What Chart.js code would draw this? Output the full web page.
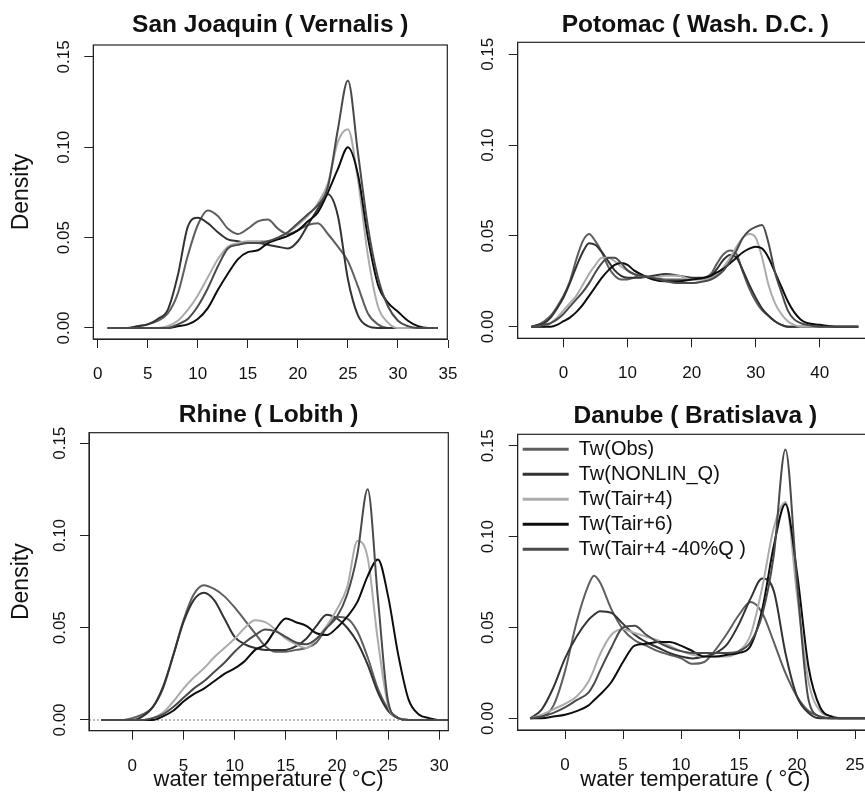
<!DOCTYPE html>
<html>
<head>
<meta charset="utf-8">
<script src="https://cdn.jsdelivr.net/npm/chart.js@4.4.1/dist/chart.umd.min.js"></script>
<style>
  html, body { margin: 0; padding: 0; background: #ffffff; overflow: hidden; width: 865px; height: 803px; }
  .panel { position: absolute; }
</style>
</head>
<body>
<div class="panel" style="left:0px;top:0px;width:460px;height:400px"><canvas id="cSJ"></canvas></div>
<div class="panel" style="left:430px;top:0px;width:445px;height:400px"><canvas id="cPO"></canvas></div>
<div class="panel" style="left:0px;top:390px;width:460px;height:413px"><canvas id="cRH"></canvas></div>
<div class="panel" style="left:430px;top:390px;width:445px;height:413px"><canvas id="cDA"></canvas></div>
<script>
// ---------------- DATA ----------------
const seriesNames = ['Tw(Obs)', 'Tw(NONLIN_Q)', 'Tw(Tair+4)', 'Tw(Tair+6)', 'Tw(Tair+4 -40%Q )'];
const yTickValues = [0, 0.05, 0.10, 0.15];
const yTickLabels = ['0.00', '0.05', '0.10', '0.15'];

// San Joaquin (Vernalis)
const sjTitle = 'San Joaquin ( Vernalis )';
const sjTicks = [0, 5, 10, 15, 20, 25, 30, 35];
const sjTemp = [1,2,3,4,5,6,7,8,9,10,11,12,13,14,15,16,17,18,19,20,21,22,23,24,25,26,27,28,29,30,31,32,33,34];
const sjObs    = [0,0,0,0.001,0.002,0.004,0.008,0.019,0.040,0.057,0.065,0.062,0.055,0.052,0.055,0.059,0.060,0.055,0.052,0.054,0.057,0.058,0.052,0.045,0.037,0.023,0.008,0.002,0,0,0,0,0,0];
const sjNonlin = [0,0,0,0.001,0.002,0.005,0.010,0.029,0.056,0.061,0.058,0.053,0.049,0.048,0.047,0.047,0.046,0.045,0.044,0.048,0.057,0.066,0.074,0.062,0.027,0.007,0.001,0,0,0,0,0,0,0];
const sjTair4  = [0,0,0,0,0,0,0.001,0.004,0.010,0.018,0.028,0.038,0.045,0.047,0.048,0.048,0.048,0.050,0.053,0.057,0.062,0.069,0.080,0.103,0.110,0.082,0.040,0.012,0.003,0,0,0,0,0];
const sjTair6  = [0,0,0,0,0,0,0,0.001,0.002,0.005,0.011,0.021,0.030,0.038,0.042,0.043,0.047,0.049,0.051,0.054,0.059,0.064,0.075,0.088,0.100,0.085,0.050,0.024,0.014,0.009,0.004,0.001,0,0];
const sjQ40    = [0,0,0,0,0,0,0,0.002,0.005,0.012,0.022,0.034,0.044,0.046,0.047,0.047,0.048,0.050,0.053,0.058,0.063,0.068,0.078,0.110,0.137,0.097,0.056,0.028,0.012,0.004,0.001,0,0,0];

// Potomac (Wash. D.C.)
const poTitle = 'Potomac ( Wash. D.C. )';
const poTicks = [0, 10, 20, 30, 40];
const poTemp = [-5,-4,-3,-2,-1,0,1,2,3,4,5,6,7,8,9,10,11,12,14,16,18,20,22,23,24,25,26,27,28,29,30,31,32,33,34,35,36,37,38,40,43,46];
const poObs    = [0,0.001,0.003,0.006,0.011,0.017,0.025,0.037,0.047,0.051,0.047,0.041,0.033,0.028,0.026,0.026,0.027,0.028,0.027,0.026,0.026,0.026,0.027,0.029,0.035,0.040,0.042,0.040,0.030,0.021,0.014,0.009,0.006,0.003,0.001,0,0,0,0,0,0,0];
const poNonlin = [0,0.001,0.002,0.005,0.010,0.016,0.024,0.033,0.041,0.046,0.045,0.041,0.036,0.031,0.028,0.027,0.027,0.027,0.028,0.029,0.028,0.027,0.027,0.028,0.032,0.037,0.0395,0.038,0.031,0.023,0.016,0.010,0.006,0.003,0.001,0,0,0,0,0,0,0];
const poTair4  = [0,0,0,0.002,0.005,0.009,0.013,0.017,0.023,0.029,0.034,0.038,0.038,0.036,0.033,0.031,0.029,0.028,0.027,0.028,0.028,0.026,0.026,0.027,0.029,0.033,0.038,0.044,0.049,0.051,0.049,0.038,0.023,0.013,0.007,0.003,0.001,0,0,0,0,0];
const poTair6  = [0,0,0,0,0.001,0.003,0.005,0.008,0.012,0.017,0.022,0.027,0.031,0.034,0.035,0.034,0.031,0.029,0.026,0.025,0.025,0.026,0.027,0.028,0.030,0.032,0.035,0.038,0.041,0.043,0.044,0.043,0.038,0.030,0.022,0.014,0.008,0.004,0.002,0.001,0,0];
const poQ40    = [0,0,0.001,0.002,0.004,0.007,0.011,0.015,0.019,0.024,0.030,0.035,0.038,0.038,0.035,0.031,0.029,0.028,0.027,0.025,0.024,0.024,0.025,0.026,0.028,0.031,0.036,0.042,0.049,0.053,0.055,0.056,0.046,0.030,0.019,0.009,0.004,0.002,0.001,0,0,0];

// Rhine (Lobith)
const rhTitle = 'Rhine ( Lobith )';
const rhTicks = [0, 5, 10, 15, 20, 25, 30];
const rhTemp = [-3,-2,-1,0,1,2,3,4,5,6,7,8,9,10,11,12,13,14,15,16,17,18,19,20,21,22,23,24,25,26,27,28,29,30,31];
const rhObs    = [0,0,0,0.001,0.003,0.007,0.017,0.035,0.054,0.068,0.073,0.071,0.067,0.061,0.054,0.047,0.040,0.037,0.037,0.038,0.039,0.042,0.050,0.056,0.055,0.048,0.034,0.017,0.006,0.001,0,0,0,0,0];
const rhNonlin = [0,0,0,0,0.002,0.007,0.018,0.035,0.053,0.065,0.069,0.065,0.055,0.045,0.041,0.039,0.038,0.038,0.038,0.040,0.044,0.051,0.057,0.055,0.050,0.042,0.030,0.015,0.005,0.001,0,0,0,0,0];
const rhTair4  = [0,0,0,0,0,0.001,0.004,0.010,0.017,0.023,0.028,0.034,0.039,0.044,0.050,0.054,0.053,0.049,0.044,0.041,0.039,0.044,0.051,0.060,0.072,0.097,0.088,0.043,0.008,0.001,0,0,0,0,0];
const rhTair6  = [0,0,0,0,0,0,0.002,0.005,0.010,0.014,0.017,0.021,0.025,0.028,0.032,0.038,0.041,0.049,0.055,0.053,0.051,0.047,0.046,0.050,0.056,0.064,0.078,0.087,0.067,0.035,0.011,0.003,0.001,0,0];
const rhQ40    = [0,0,0,0,0,0.001,0.003,0.007,0.012,0.017,0.021,0.026,0.031,0.037,0.042,0.046,0.049,0.048,0.045,0.042,0.041,0.044,0.050,0.056,0.068,0.090,0.125,0.066,0.010,0.001,0,0,0,0,0];

// Danube (Bratislava)
const daTitle = 'Danube ( Bratislava )';
const daTicks = [0, 5, 10, 15, 20, 25];
const daTemp = [-3,-2,-1,0,1,2,2.5,3,4,5,6,7,8,9,10,11,12,13,14,15,16,17,18,19,20,21,22,23,24,25,26];
const daObs    = [0,0.001,0.007,0.026,0.053,0.073,0.0785,0.075,0.060,0.049,0.043,0.040,0.037,0.035,0.033,0.030,0.031,0.038,0.047,0.057,0.064,0.058,0.042,0.025,0.012,0.004,0.001,0,0,0,0];
const daNonlin = [0,0.005,0.017,0.033,0.045,0.054,0.057,0.059,0.058,0.052,0.046,0.042,0.039,0.036,0.034,0.033,0.034,0.036,0.041,0.052,0.066,0.077,0.070,0.036,0.012,0.003,0,0,0,0,0];
const daTair4  = [0,0.002,0.005,0.008,0.012,0.020,0.027,0.035,0.046,0.049,0.047,0.045,0.043,0.040,0.037,0.035,0.034,0.034,0.034,0.037,0.046,0.072,0.105,0.119,0.068,0.020,0.004,0.001,0,0,0];
const daTair6  = [0,0,0.001,0.002,0.004,0.007,0.010,0.013,0.020,0.031,0.040,0.041,0.042,0.042,0.040,0.037,0.034,0.034,0.035,0.036,0.040,0.060,0.095,0.118,0.080,0.028,0.006,0.001,0,0,0];
const daQ40    = [0,0.001,0.003,0.006,0.010,0.014,0.019,0.026,0.039,0.050,0.051,0.046,0.042,0.039,0.037,0.036,0.036,0.036,0.036,0.037,0.042,0.057,0.090,0.148,0.075,0.010,0.001,0,0,0,0];

// ---------------- STYLE ----------------
const seriesColors = ['#5e5e5e', '#333333', '#ababab', '#0d0d0d', '#4a4a4a'];
const FONT = '"Liberation Sans", Arial, Helvetica, sans-serif';
Chart.defaults.font.family = FONT;
Chart.defaults.color = '#111111';
Chart.defaults.animation = false;

const boxPlugin = {
  id: 'panelBox',
  afterDraw(chart) {
    const a = chart.chartArea, ctx = chart.ctx;
    ctx.save();
    ctx.strokeStyle = '#222222';
    ctx.lineWidth = 1.2;
    ctx.strokeRect(a.left, a.top, a.right - a.left, a.bottom - a.top);
    ctx.restore();
  }
};
const zeroLinePlugin = {
  id: 'zeroLine',
  beforeDatasetsDraw(chart, args, opts) {
    if (!opts || !opts.show) return;
    const a = chart.chartArea, ctx = chart.ctx;
    const y = chart.scales.y.getPixelForValue(0);
    ctx.save();
    ctx.strokeStyle = '#777777';
    ctx.lineWidth = 1;
    ctx.setLineDash([2, 2]);
    ctx.beginPath(); ctx.moveTo(a.left, y); ctx.lineTo(a.right, y); ctx.stroke();
    ctx.restore();
  }
};
// keep a 'chartArea' legend anchored to the top-left corner of the plot box
const legendInAreaPlugin = {
  id: 'legendInArea',
  afterLayout(chart) {
    const l = chart.legend;
    if (!l || !l.options.display || l.options.position !== 'chartArea') return;
    const a = chart.chartArea;
    l.left = a.left; l.top = a.top; l.right = a.right; l.bottom = a.bottom;
  }
};
function zeroPad(s) { s.paddingLeft = 0; s.paddingRight = 0; s.paddingTop = 0; s.paddingBottom = 0; }

function makePanel(p) {
  const datasets = p.series.map((ys, k) => ({
    label: seriesNames[k],
    data: p.xs.map((x, i) => ({ x: x, y: ys[i] })),
    borderColor: seriesColors[k],
    backgroundColor: seriesColors[k],
    borderWidth: 2,
    pointRadius: 0,
    fill: false,
    cubicInterpolationMode: 'monotone',
    order: p.series.length - k
  }));
  const g = p.geom;
  return new Chart(document.getElementById(p.id), {
    type: 'line',
    data: { datasets },
    plugins: [boxPlugin, zeroLinePlugin, legendInAreaPlugin],
    options: {
      responsive: true,
      maintainAspectRatio: false,
      animation: false,
      layout: { padding: { left: 0, top: 0, right: g.padRight, bottom: 0 } },
      plugins: {
        zeroLine: { show: !!p.zeroLine },
        tooltip: { enabled: false },
        title: {
          display: true, text: p.title, fullSize: false,
          color: '#111111',
          font: { size: 24.5, weight: 'bold', family: FONT, lineHeight: 1.2 },
          padding: { top: g.tPadTop, bottom: g.tPadBottom }
        },
        legend: p.legend ? {
          display: true,
          position: 'chartArea',
          align: 'start',
          labels: {
            usePointStyle: true,
            pointStyle: 'line',
            pointStyleWidth: 46,
            color: '#111111',
            font: { size: 20, family: FONT },
            padding: 5,
            sort: (a, b) => a.datasetIndex - b.datasetIndex,
            generateLabels: (chart) => Chart.defaults.plugins.legend.labels.generateLabels(chart)
              .map(l => Object.assign(l, { lineWidth: 3 }))
          }
        } : { display: false }
      },
      scales: {
        x: {
          type: 'linear',
          min: p.xMin, max: p.xMax,
          afterBuildTicks: (s) => { s.ticks = p.xTicks.map(v => ({ value: v })); },
          afterFit: (s) => { s.height = g.xAxisH; zeroPad(s); },
          grid: { drawOnChartArea: false, drawTicks: true, tickLength: 9, color: '#222222', lineWidth: 1 },
          border: { display: true, color: '#222222', width: 1 },
          ticks: { font: { size: 17 }, color: '#111111', padding: 16, maxRotation: 0, autoSkip: false,
                   callback: (v) => String(v) },
          title: p.xTitle ? { display: true, text: 'water temperature ( °C)', color: '#111111',
                   font: { size: 22 }, padding: { top: 0, bottom: 9.8 } } : { display: false }
        },
        y: {
          type: 'linear',
          min: p.yMin, max: p.yMax,
          afterBuildTicks: (s) => { s.ticks = yTickValues.map(v => ({ value: v })); },
          afterFit: (s) => { s.width = g.yAxisW; zeroPad(s); },
          grid: { drawOnChartArea: false, drawTicks: true, tickLength: 9, color: '#222222', lineWidth: 1 },
          border: { display: true, color: '#222222', width: 1 },
          ticks: { font: { size: 17 }, color: '#111111', padding: 3.5, minRotation: 90, maxRotation: 90,
                   crossAlign: 'center', autoSkip: false,
                   callback: (v, i) => yTickLabels[i] },
          title: p.yTitle ? { display: true, text: 'Density', color: '#111111',
                   font: { size: 23 }, padding: { top: 8, bottom: 0 } } : { display: false }
        }
      }
    }
  });
}

makePanel({ id: 'cSJ', title: sjTitle, xs: sjTemp, series: [sjObs, sjNonlin, sjTair4, sjTair6, sjQ40],
  xMin: -0.44, xMax: 34.93, yMin: -0.0061, yMax: 0.1566, xTicks: sjTicks, yTitle: true, xTitle: false,
  geom: { yAxisW: 93.3, xAxisH: 61, padRight: 12.7, tPadTop: 10.5, tPadBottom: 5.1 } });
makePanel({ id: 'cPO', title: poTitle, xs: poTemp, series: [poObs, poNonlin, poTair4, poTair6, poQ40],
  xMin: -7.14, xMax: 48.3, yMin: -0.0064, yMax: 0.1566, xTicks: poTicks, yTitle: false, xTitle: false,
  geom: { yAxisW: 87.7, xAxisH: 61.7, padRight: 2, tPadTop: 10.1, tPadBottom: 2.8 } });
makePanel({ id: 'cRH', title: rhTitle, xs: rhTemp, series: [rhObs, rhNonlin, rhTair4, rhTair6, rhQ40],
  xMin: -4.23, xMax: 30.88, yMin: -0.0058, yMax: 0.1557, xTicks: rhTicks, yTitle: true, xTitle: true, zeroLine: true,
  geom: { yAxisW: 89, xAxisH: 72.3, padRight: 11.7, tPadTop: 10.1, tPadBottom: 3.2 } });
makePanel({ id: 'cDA', title: daTitle, xs: daTemp, series: [daObs, daNonlin, daTair4, daTair6, daQ40],
  xMin: -4.08, xMax: 26.55, yMin: -0.0064, yMax: 0.1563, xTicks: daTicks, yTitle: false, xTitle: true, legend: true,
  geom: { yAxisW: 87.7, xAxisH: 73, padRight: 2, tPadTop: 11.4, tPadBottom: 3.5 } });
</script>
</body>
</html>
